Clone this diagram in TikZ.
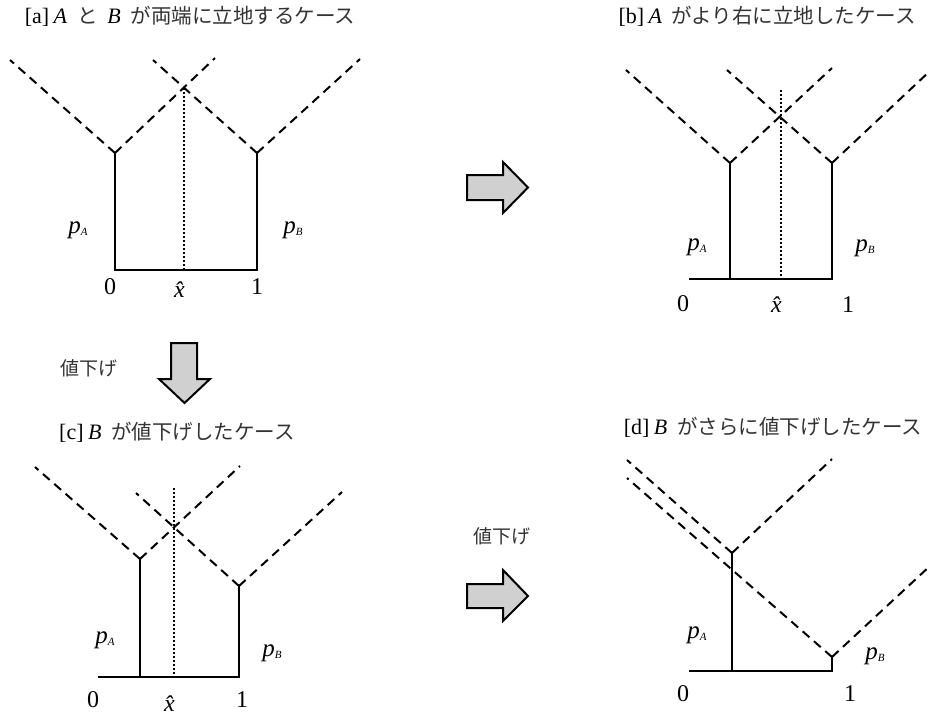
\documentclass[tikz,border=0pt]{standalone}
\usepackage{fontspec}
\setmainfont{Liberation Serif}
\newfontfamily\jpfont{Noto Sans CJK JP}
\usetikzlibrary{calc}
\definecolor{jpgray}{HTML}{333333}
\definecolor{arrowfill}{HTML}{D0D0D0}
\newcommand\jp[1]{{\jpfont\fontsize{20.5}{22}\selectfont\color{jpgray}#1}}
\newcommand\jpl[1]{{\jpfont\fontsize{19}{22}\selectfont\color{jpgray}#1}}
\newcommand\plab[1]{\textit{p}\raisebox{-0.08em}{\fontsize{11}{11}\selectfont\textit{#1}}}
\newcommand\gap{\hspace{0.45em}}
\newcommand\bgap{\hspace{0.2em}}
\begin{document}
\begin{tikzpicture}[x=1pt,y=-1pt,
  dashl/.style={line width=2pt,dash pattern=on 9pt off 6pt},
  solidl/.style={line width=2.2pt},
  dotl/.style={line width=2.4pt,dash pattern=on 2pt off 2pt},
  bigarrow/.style={draw=black,fill=arrowfill,line width=2pt,line join=miter},
  title/.style={inner sep=0pt,font=\fontsize{22}{24}\selectfont},
  lab/.style={inner sep=0pt,font=\fontsize{24}{26}\selectfont},
  plabel/.style={inner sep=0pt,font=\fontsize{25}{26}\selectfont}]
\useasboundingbox (0,0) rectangle (929,718);
\clip (0,0) rectangle (929,718);

% ---------------- panel a
\node[title] (ta) at (190,16) {[a]\bgap\textit{A}\gap\jp{と}\gap\textit{B}\gap\jp{が両端に立地するケース}};
\coordinate (aAv) at (115,153); \coordinate (aAL) at (10,60); \coordinate (aAR) at (215,58);
\coordinate (aBv) at (257,153); \coordinate (aBL) at (153,60); \coordinate (aBR) at (360,59);
\coordinate (aA0) at (115,270); \coordinate (aB0) at (257,270);
\coordinate (aX) at (intersection of aAv--aAR and aBv--aBL);
\coordinate (aX0) at (aX |- aA0);
\draw[dashl] (aAv) -- (aAL); \draw[dashl] (aAv) -- (aAR);
\draw[dashl] (aBv) -- (aBL); \draw[dashl] (aBv) -- (aBR);
\draw[solidl] (aAv) -- (aA0) -- (aB0) -- (aBv);
\draw[dotl] (aX) -- (aX0);
\node[plabel] (apA) at (78,230) {\plab{A}};
\node[plabel] (apB) at (293,230) {\plab{B}};
\node[lab] (a0) at (110,287) {0};
\node[lab] (ax) at (aX0 |- 0,290) {\textit{\^{x}}};
\node[lab] (a1) at (257,287) {1};

% ---------------- panel b
\node[title] (tb) at (767,16) {[b]\bgap\textit{A}\gap\jp{がより右に立地したケース}};
\coordinate (bAv) at (730,163); \coordinate (bAL) at (626,70); \coordinate (bAR) at (832,68);
\coordinate (bBv) at (832,163); \coordinate (bBL) at (727,70); \coordinate (bBR) at (931,70);
\coordinate (bO) at (689,279); \coordinate (bA0) at (730,279); \coordinate (bB0) at (832,279);
\coordinate (bXt) at (781,90); \coordinate (bX0) at (781,279);
\draw[dashl] (bAv) -- (bAL); \draw[dashl] (bAv) -- (bAR);
\draw[dashl] (bBv) -- (bBL); \draw[dashl] (bBv) -- (bBR);
\draw[solidl] (bO) -- (bB0) -- (bBv);
\draw[solidl] (bAv) -- (bA0);
\draw[dotl] (bXt) -- (bX0);
\node[plabel] (bpA) at (697,247) {\plab{A}};
\node[plabel] (bpB) at (865,248) {\plab{B}};
\node[lab] (b0) at (683,304) {0};
\node[lab] (bx) at (781,305) {\textit{\^{x}}};
\node[lab] (b1) at (848,305) {1};

% ---------------- arrows between panels
\coordinate (r1a) at (467,175); \coordinate (r1b) at (503,175); \coordinate (r1c) at (503,162);
\coordinate (r1d) at (528,187.5); \coordinate (r1e) at (503,213); \coordinate (r1f) at (503,200);
\coordinate (r1g) at (467,200);
\draw[bigarrow] (r1a) -- (r1b) -- (r1c) -- (r1d) -- (r1e) -- (r1f) -- (r1g) -- cycle;

\node[inner sep=0pt] (lab1) at (89,368) {\jpl{値下げ}};
\coordinate (d1a) at (171,343); \coordinate (d1b) at (197,343); \coordinate (d1c) at (197,379);
\coordinate (d1d) at (210,379); \coordinate (d1e) at (184.5,403); \coordinate (d1f) at (159,379);
\coordinate (d1g) at (171,379);
\draw[bigarrow] (d1a) -- (d1b) -- (d1c) -- (d1d) -- (d1e) -- (d1f) -- (d1g) -- cycle;

\node[inner sep=0pt] (lab2) at (502,536) {\jpl{値下げ}};
\coordinate (r2a) at (467,584); \coordinate (r2b) at (503,584); \coordinate (r2c) at (503,570);
\coordinate (r2d) at (528,596); \coordinate (r2e) at (503,621); \coordinate (r2f) at (503,608);
\coordinate (r2g) at (467,608);
\draw[bigarrow] (r2a) -- (r2b) -- (r2c) -- (r2d) -- (r2e) -- (r2f) -- (r2g) -- cycle;

% ---------------- panel c
\node[title] (tc) at (177,432) {[c]\bgap\textit{B}\gap\jp{が値下げしたケース}};
\coordinate (cAv) at (140,559); \coordinate (cAL) at (35,467); \coordinate (cAR) at (240,466);
\coordinate (cBv) at (239,586); \coordinate (cBL) at (136,493); \coordinate (cBR) at (342,492);
\coordinate (cO) at (98,677); \coordinate (cA0) at (140,677); \coordinate (cB0) at (239,677);
\coordinate (cXt) at (174,488); \coordinate (cX0) at (174,677);
\draw[dashl] (cAv) -- (cAL); \draw[dashl] (cAv) -- (cAR);
\draw[dashl] (cBv) -- (cBL); \draw[dashl] (cBv) -- (cBR);
\draw[solidl] (cO) -- (cB0) -- (cBv);
\draw[solidl] (cAv) -- (cA0);
\draw[dotl] (cXt) -- (cX0);
\node[plabel] (cpA) at (105,640) {\plab{A}};
\node[plabel] (cpB) at (272,653) {\plab{B}};
\node[lab] (c0) at (93,700) {0};
\node[lab] (cx) at (174,704) {\textit{\^{x}}};
\node[lab] (c1) at (242,700) {1};

% ---------------- panel d
\node[title] (td) at (773,427) {[d]\bgap\textit{B}\gap\jp{がさらに値下げしたケース}};
\coordinate (dAv) at (732,553); \coordinate (dAL) at (627,460); \coordinate (dAR) at (832,459);
\coordinate (dBv) at (832,657); \coordinate (dBL) at (627,478); \coordinate (dBR) at (931,565);
\coordinate (dO) at (689,671); \coordinate (dA0) at (732,671); \coordinate (dB0) at (832,671);
\draw[dashl] (dAv) -- (dAL); \draw[dashl] (dAv) -- (dAR);
\draw[dashl] (dBv) -- (dBL); \draw[dashl] (dBv) -- (dBR);
\draw[solidl] (dO) -- (dB0) -- (dBv);
\draw[solidl] (dAv) -- (dA0);
\node[plabel] (dpA) at (697,635) {\plab{A}};
\node[plabel] (dpB) at (875,656) {\plab{B}};
\node[lab] (d0) at (683,694) {0};
\node[lab] (d1) at (850,694) {1};
\end{tikzpicture}
\end{document}
